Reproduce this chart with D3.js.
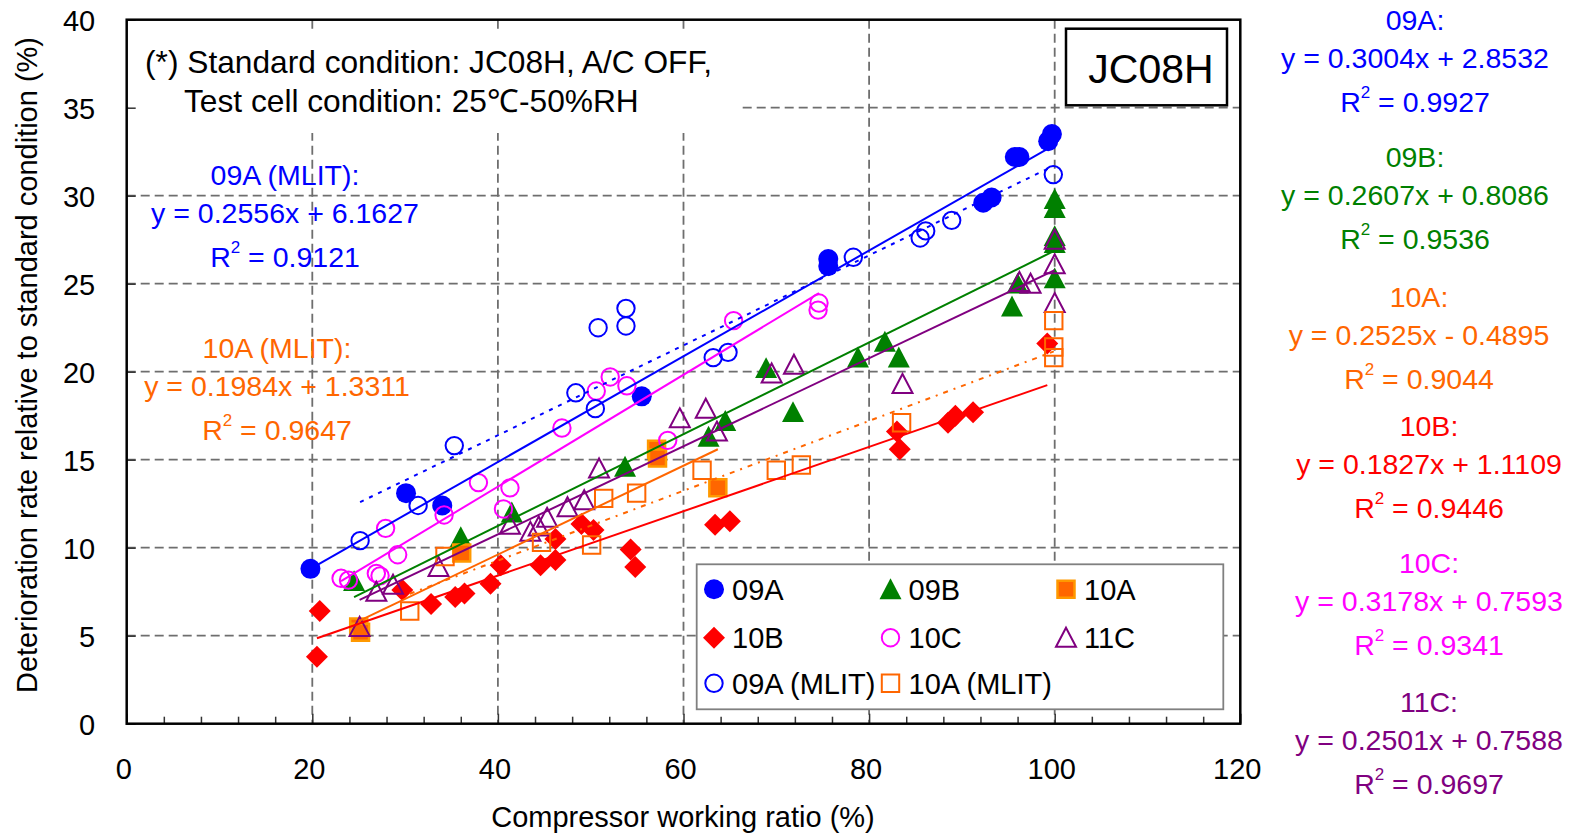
<!DOCTYPE html>
<html>
<head>
<meta charset="utf-8">
<script src="https://cdn.jsdelivr.net/npm/d3@7"></script>
<style>
  html, body { margin: 0; padding: 0; background: #fff; }
  svg { display: block; font-family: "Liberation Sans", Arial, sans-serif; }
</style>
</head>
<body>
<svg id="chart" width="1572" height="833"></svg>
<script>
// Deterioration rate vs. compressor working ratio, JC08H test mode

// ---- axis ticks ----
const xTicks = [0, 20, 40, 60, 80, 100, 120];
const yTicks = [0, 5, 10, 15, 20, 25, 30, 35, 40];

// ---- measured points [compressor working ratio %, deterioration rate %] ----
const pts09A = [[19.8,8.8],[30.1,13.1],[34.0,12.4],[55.5,18.6],[75.6,26.4],[75.6,26.0],
  [92.3,29.6],[93.2,29.9],[95.7,32.2],[96.2,32.2],[99.3,33.1],[99.7,33.5]];
const pts09B = [[24.5,8.1],[36.0,10.6],[41.5,12.0],[53.7,14.6],[62.7,16.3],[64.5,17.2],
  [68.9,20.2],[71.8,17.7],[78.8,20.8],[81.7,21.7],[83.2,20.8],[95.4,23.7],[96.0,25.0],
  [100,25.3],[100,27.3],[100,27.7],[100,29.3],[100,29.8]];
const pts10A = [[25.0,5.5],[25.2,5.2],[36.1,9.7],[57.1,15.6],[57.2,15.1],[63.7,13.4]];
const pts10B = [[20.5,3.8],[20.8,6.4],[29.7,7.6],[32.8,6.8],[35.4,7.2],[36.4,7.4],[39.2,7.95],
  [40.3,9.0],[44.6,9.0],[46.2,9.3],[46.2,10.5],[49.0,11.35],[50.3,11.0],[54.3,9.9],[54.8,8.9],
  [63.4,11.3],[65.0,11.5],[83.0,16.6],[83.3,15.6],[88.5,17.1],[89.3,17.5],[91.2,17.7],[99.2,21.6]];
const pts10C = [[23.1,8.26],[23.9,8.16],[26.9,8.54],[27.3,8.4],[27.9,11.1],[29.2,9.6],[34.2,11.86],
  [37.9,13.7],[40.6,12.2],[41.3,13.4],[46.9,16.8],[50.6,18.9],[52.1,19.7],[53.9,19.2],[58.3,16.1],
  [65.4,22.9],[74.6,23.9],[74.5,23.5]];
const pts11C = [[25.1,5.5],[26.9,7.5],[28.7,7.9],[33.6,8.9],[41.3,11.3],[43.5,10.9],[44.4,11.2],
  [45.3,11.7],[47.5,12.3],[49.3,12.7],[50.9,14.5],[59.6,17.35],[62.4,17.9],[63.6,16.6],[69.5,19.9],
  [71.9,20.4],[83.6,19.3],[96.2,25.1],[97.4,25.0],[100,23.9],[100,26.1],[100,27.5]];
const pts09AMLIT = [[25.15,10.4],[31.4,12.4],[35.3,15.8],[48.4,18.8],[50.5,17.9],[50.8,22.5],
  [53.8,23.6],[53.8,22.6],[63.2,20.8],[64.8,21.1],[78.3,26.5],[85.5,27.6],[86.1,28.0],[88.9,28.6],[99.85,31.2]];
const pts10AMLIT = [[30.5,6.4],[34.3,9.5],[44.7,10.3],[50.1,10.15],[51.4,12.8],[54.95,13.1],
  [62.0,14.4],[70.0,14.4],[72.7,14.7],[83.5,17.1],[99.9,20.8],[99.9,21.4],[99.9,22.9]];

// ---- series names and linear fit results (slope, intercept, R^2) ----
const seriesNames = ["09A", "09B", "10A", "10B", "10C", "11C", "09A (MLIT)", "10A (MLIT)"];
const fitSlopes     = [0.3004, 0.2607, 0.2525, 0.1827, 0.3178, 0.2501, 0.2556, 0.1984];
const fitIntercepts = [2.8532, 0.8086, -0.4895, 1.1109, 0.7593, 0.7588, 6.1627, 1.3311];
const fitR2         = [0.9927, 0.9536, 0.9044, 0.9446, 0.9341, 0.9697, 0.9121, 0.9647];

const seriesPoints = [pts09A, pts09B, pts10A, pts10B, pts10C, pts11C, pts09AMLIT, pts10AMLIT];

// ---- drawing styles ----
const styles = [
  { shape: "circle",   size: 10,  fill: "#0000FF", stroke: "none",    sw: 0,   line: "#0000FF", dash: null },
  { shape: "triangle", size: 11,  fill: "#008000", stroke: "none",    sw: 0,   line: "#008000", dash: null },
  { shape: "square",   size: 8.5, fill: "#FF6600", stroke: "#FF9900", sw: 2.5, line: "#FF6600", dash: null },
  { shape: "diamond",  size: 11,  fill: "#FF0000", stroke: "none",    sw: 0,   line: "#FF0000", dash: null },
  { shape: "circle",   size: 8.7, fill: "none",    stroke: "#FF00FF", sw: 2,   line: "#FF00FF", dash: null },
  { shape: "triangle", size: 10,  fill: "none",    stroke: "#800080", sw: 2,   line: "#800080", dash: null },
  { shape: "circle",   size: 8.7, fill: "none",    stroke: "#0000FF", sw: 2,   line: "#0000FF", dash: "4,6" },
  { shape: "square",   size: 8.7, fill: "none",    stroke: "#FF6600", sw: 2,   line: "#FF6600", dash: "5,6,2,6" }
];

function markerPath(shape, s) {
  switch (shape) {
    case "circle":
      return `M${-s},0A${s},${s} 0 1,0 ${s},0A${s},${s} 0 1,0 ${-s},0Z`;
    case "triangle":
      return `M0,${-s}L${s},${s * 0.9}L${-s},${s * 0.9}Z`;
    case "diamond":
      return `M0,${-s}L${s},0L0,${s}L${-s},0Z`;
    case "square":
      return `M${-s},${-s}H${s}V${s}H${-s}Z`;
  }
}

const svg = d3.select("#chart");
const plot = { left: 126.7, right: 1240.3, top: 19.7, bottom: 723.7 };

const x = d3.scaleLinear().domain([0, 120]).range([plot.left, plot.right]);
const y = d3.scaleLinear().domain([0, 40]).range([plot.bottom, plot.top]);

svg.append("rect").attr("width", 1572).attr("height", 833).attr("fill", "#fff");

svg.append("clipPath").attr("id", "plotClip")
  .append("rect")
  .attr("x", plot.left).attr("y", plot.top)
  .attr("width", plot.right - plot.left).attr("height", plot.bottom - plot.top);

// ---- grid ----
const grid = svg.append("g").attr("stroke", "#6e6e6e").attr("stroke-width", 1.8)
  .attr("stroke-dasharray", "9,5");
grid.selectAll("line.vx").data(xTicks.filter(v => v > 0 && v < 120)).join("line")
  .attr("x1", d => x(d)).attr("x2", d => x(d))
  .attr("y1", plot.top).attr("y2", plot.bottom);
grid.selectAll("line.hy").data(yTicks.filter(v => v > 0 && v < 40)).join("line")
  .attr("x1", plot.left).attr("x2", plot.right)
  .attr("y1", d => y(d)).attr("y2", d => y(d));

// ---- condition note panel (opaque) ----
svg.append("rect").attr("x", plot.left + 1.5).attr("y", 33)
  .attr("width", 741 - plot.left - 1.5).attr("height", 100).attr("fill", "#fff");
svg.append("text").attr("x", 145).attr("y", 73)
  .attr("font-size", 31.7).attr("fill", "#000")
  .text("(*) Standard condition: JC08H, A/C OFF,");
svg.append("text").attr("x", 184).attr("y", 111.7)
  .attr("font-size", 31.7).attr("fill", "#000")
  .text("Test cell condition: 25\u2103-50%RH");

// ---- mode label box ----
svg.append("rect").attr("x", 1066).attr("y", 28.7).attr("width", 161).attr("height", 76.6)
  .attr("fill", "#fff").attr("stroke", "#000").attr("stroke-width", 2.5);
svg.append("text").attr("x", 1151).attr("y", 83.3).attr("text-anchor", "middle")
  .attr("font-size", 41).attr("fill", "#000").text("JC08H");

// ---- markers ----
const markers = svg.append("g").attr("clip-path", "url(#plotClip)");
seriesPoints.forEach((pts, i) => {
  const st = styles[i];
  markers.append("g").selectAll("path").data(pts).join("path")
    .attr("transform", d => `translate(${x(d[0])},${y(d[1])})`)
    .attr("d", markerPath(st.shape, st.size))
    .attr("fill", st.fill).attr("stroke", st.stroke).attr("stroke-width", st.sw)
    .attr("stroke-linejoin", "miter");
});

// ---- linear trend lines across each series' x-range ----
const trends = svg.append("g").attr("clip-path", "url(#plotClip)");
seriesPoints.forEach((pts, i) => {
  const st = styles[i];
  const [x0, x1] = d3.extent(pts, d => d[0]);
  const f = v => fitSlopes[i] * v + fitIntercepts[i];
  trends.append("line")
    .attr("x1", x(x0)).attr("y1", y(f(x0)))
    .attr("x2", x(x1)).attr("y2", y(f(x1)))
    .attr("stroke", st.line).attr("stroke-width", 2)
    .attr("stroke-dasharray", st.dash);
});

// ---- axes ----
const xAxis = svg.append("g").attr("transform", `translate(0,${plot.bottom})`)
  .call(d3.axisBottom(x).tickValues(xTicks).tickSize(-10).tickPadding(34.5));
const xMinor = svg.append("g").attr("transform", `translate(0,${plot.bottom})`)
  .call(d3.axisBottom(x).tickValues(d3.range(4, 120, 4).filter(v => v % 20 !== 0))
    .tickSize(-7).tickFormat(""));
const yAxis = svg.append("g").attr("transform", `translate(${plot.left},0)`)
  .call(d3.axisLeft(y).tickValues(yTicks).tickSize(-9).tickPadding(31.5));

[xAxis, xMinor, yAxis].forEach(g => {
  g.select(".domain").remove();
  g.selectAll(".tick line").attr("stroke", "#333").attr("stroke-width", 1.5);
});
xAxis.selectAll(".tick text").attr("font-size", 29).attr("fill", "#000")
  .attr("font-family", null).attr("dx", -3.5);
yAxis.selectAll(".tick text").attr("font-size", 29).attr("fill", "#000")
  .attr("font-family", null).attr("dy", "0.38em");
xAxis.attr("font-family", null);
yAxis.attr("font-family", null);

// plot frame
svg.append("rect")
  .attr("x", plot.left).attr("y", plot.top)
  .attr("width", plot.right - plot.left).attr("height", plot.bottom - plot.top)
  .attr("fill", "none").attr("stroke", "#000").attr("stroke-width", 2.5);

// axis titles
svg.append("text").attr("x", 683).attr("y", 827).attr("text-anchor", "middle")
  .attr("font-size", 29).attr("fill", "#000").text("Compressor working ratio (%)");
svg.append("text").attr("transform", "translate(37,365) rotate(-90)")
  .attr("text-anchor", "middle").attr("font-size", 29).attr("fill", "#000")
  .text("Deterioration rate relative to standard condition (%)");

// ---- legend ----
const legend = svg.append("g");
legend.append("rect").attr("x", 696.7).attr("y", 564.3).attr("width", 526.6).attr("height", 145)
  .attr("fill", "#fff").attr("stroke", "#808080").attr("stroke-width", 1.8);
const legCols = [714, 890.5, 1066];
const legRows = [589.3, 637.7, 683.3];
seriesNames.forEach((name, i) => {
  const st = styles[i];
  const cx = legCols[i % 3], cy = legRows[Math.floor(i / 3)];
  legend.append("path")
    .attr("transform", `translate(${cx},${cy})`)
    .attr("d", markerPath(st.shape, st.size))
    .attr("fill", st.fill).attr("stroke", st.stroke).attr("stroke-width", st.sw);
  legend.append("text").attr("x", cx + 18).attr("y", cy + 10.5)
    .attr("font-size", 29).attr("fill", "#000").text(name);
});

// ---- regression equation labels ----
function fmtEq(i) {
  const b = fitIntercepts[i];
  return `y = ${fitSlopes[i].toFixed(4)}x ${b < 0 ? "-" : "+"} ${Math.abs(b).toFixed(4)}`;
}
// [series index, centre x, first baseline]
const eqLabels = [
  [0, 1415, 30], [1, 1415, 167], [2, 1419, 307],
  [3, 1429, 436], [4, 1429, 573], [5, 1429, 712],
  [6, 285, 185], [7, 277, 358]
];
eqLabels.forEach(([i, cx, by]) => {
  const col = styles[i].line;
  const g = svg.append("g").attr("fill", col).attr("font-size", 28.5).attr("text-anchor", "middle");
  g.append("text").attr("x", cx).attr("y", by).text(seriesNames[i] + ":");
  g.append("text").attr("x", cx).attr("y", by + 37.5).text(fmtEq(i));
  const r = g.append("text").attr("x", cx).attr("y", by + 81.5);
  r.append("tspan").text("R");
  r.append("tspan").attr("font-size", 17).attr("dy", -14).text("2");
  r.append("tspan").attr("dy", 14).text(" = " + fitR2[i].toFixed(4));
});
</script>
</body>
</html>
